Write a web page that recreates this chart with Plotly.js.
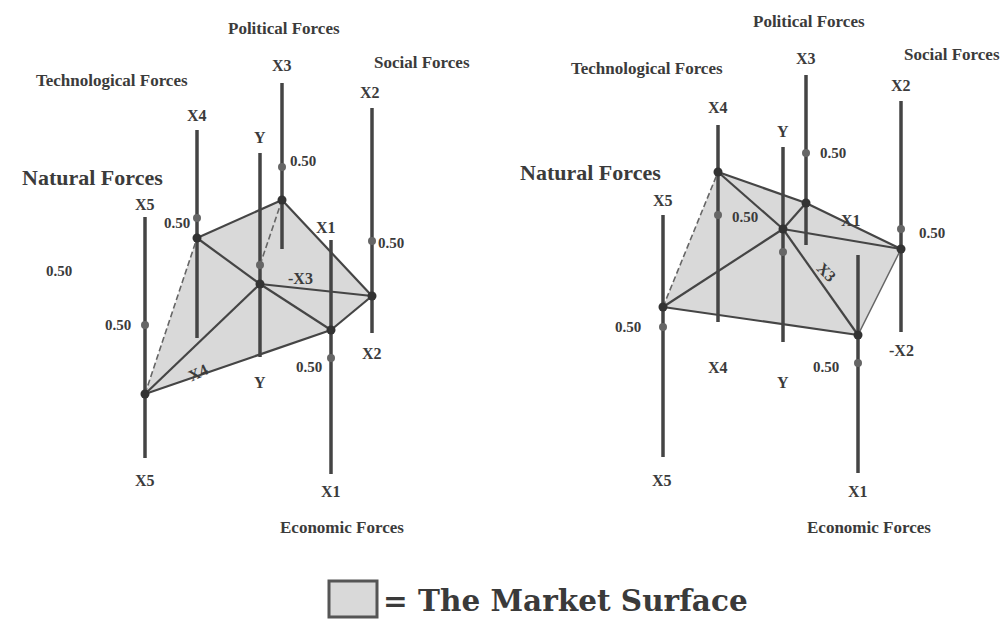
<!DOCTYPE html>
<html><head><meta charset="utf-8">
<script src="https://cdn.plot.ly/plotly-3.0.1.min.js"></script>
<style>html,body{margin:0;padding:0;background:#fff}#chart{width:1005px;height:621px}</style>
</head><body><div id="chart"></div>
<script>
// Axis order: X1, X2, X3, X4, X5, Y
const axisNames = ['X1','X2','X3','X4','X5','Y'];
// Left diagram
const leftAxisX      = [331, 372, 282, 197, 145, 260];
const leftAxisTop    = [240, 108, 83, 130, 217, 153];
const leftAxisBottom = [474, 333, 249, 338, 458, 357];
const leftNodeY      = [330, 296, 200, 238, 394, 284];
const leftMidY       = [358, 241, 167, 218, 325, 265];
// Right diagram
const rightAxisX      = [858, 901, 806, 718, 663, 783];
const rightAxisTop    = [255, 101, 75, 125, 215, 147];
const rightAxisBottom = [473, 332, 245, 322, 457, 342];
const rightNodeY      = [335, 249, 203, 172, 307, 229];
const rightMidY       = [363, 229, 153, 215, 327, 252];
// Market surface polygon: X5 -> X4 -> X3 -> X2 -> X1 -> X5
const surfaceOrder = [4, 3, 2, 1, 0, 4];
// Solid surface edges (X5-X4 edge is dashed)
const surfaceEdges = [[3,2],[2,1],[1,0],[0,4]];
// Inner edges (pairs of axis indices)
const leftEdges  = [[3,5],[5,0],[5,1],[5,4]];
const rightEdges = [[3,5],[5,0],[5,1],[4,5],[5,2]];
// Labels
const labelText = ['Political Forces','Social Forces','Technological Forces','Natural Forces','Economic Forces','0.50','-X3','-X2'];

const INK = '#3b3b3b';
const traces = [];
const anns = [];

function diagram(ax, top, bot, node, mid, edges, dashedPairs, thinEdges) {
  // surface fill
  traces.push({x: surfaceOrder.map(i => ax[i]), y: surfaceOrder.map(i => node[i]),
    mode: 'lines', fill: 'toself', fillcolor: '#d9d9d9', line: {color: 'rgba(0,0,0,0)', width: 0}, hoverinfo: 'skip'});
  // axes
  const axX = [], axY = [];
  ax.forEach((v, i) => { axX.push(v, v, null); axY.push(top[i], bot[i], null); });
  traces.push({x: axX, y: axY, mode: 'lines', line: {color: '#444', width: 3.5}, hoverinfo: 'skip'});
  // surface + inner edges
  const ex = [], ey = [];
  surfaceEdges.concat(edges).forEach(([a, b]) => {
    if (thinEdges.some(t => t[0] === a && t[1] === b)) return;
    ex.push(ax[a], ax[b], null); ey.push(node[a], node[b], null);
  });
  traces.push({x: ex, y: ey, mode: 'lines', line: {color: '#454545', width: 2.2}, hoverinfo: 'skip'});
  const tx = [], ty = [];
  thinEdges.forEach(([a, b]) => { tx.push(ax[a], ax[b], null); ty.push(node[a], node[b], null); });
  traces.push({x: tx, y: ty, mode: 'lines', line: {color: '#666', width: 1.5}, hoverinfo: 'skip'});
  // dashed edges
  const dx = [], dy = [];
  dashedPairs.forEach(p => { dx.push(p[0][0], p[1][0], null); dy.push(p[0][1], p[1][1], null); });
  traces.push({x: dx, y: dy, mode: 'lines', line: {color: '#666', width: 1.6, dash: '6px,3px'}, hoverinfo: 'skip'});
  // mid dots
  traces.push({x: ax, y: mid, mode: 'markers', marker: {color: '#666', size: 8}, hoverinfo: 'skip'});
  // nodes
  traces.push({x: ax, y: node, mode: 'markers', marker: {color: '#333', size: 9}, hoverinfo: 'skip'});
}

diagram(leftAxisX, leftAxisTop, leftAxisBottom, leftNodeY, leftMidY, leftEdges,
  [[[leftAxisX[4], leftNodeY[4]], [leftAxisX[3], leftNodeY[3]]],
   [[leftAxisX[5], leftMidY[5]], [leftAxisX[2], leftNodeY[2]]]], []);
diagram(rightAxisX, rightAxisTop, rightAxisBottom, rightNodeY, rightMidY, rightEdges,
  [[[rightAxisX[4], rightNodeY[4]], [rightAxisX[3], rightNodeY[3]]]], [[1,0]]);

function lab(text, x, y, size, angle, family) {
  anns.push({text: '<b>' + text + '</b>', x: x, y: y, xref: 'x', yref: 'y', showarrow: false,
    textangle: angle || 0, font: {family: family || 'Liberation Serif', size: size || 16, color: INK}});
}
// Left labels
lab(labelText[0], 284, 28, 17);
lab(axisNames[2], 282, 65);
lab(labelText[1], 422, 62, 17);
lab(axisNames[1], 370, 92);
lab(labelText[2], 112, 80, 17);
lab(axisNames[3], 197, 115);
lab(axisNames[5], 260, 137);
lab(labelText[5], 303, 161, 15);
lab(labelText[3], 92, 177, 22);
lab(axisNames[4], 145, 204);
lab(labelText[5], 177, 223, 15);
lab(axisNames[0], 326, 227);
lab(labelText[5], 391, 243, 15);
lab(labelText[5], 59, 271, 15);
lab(labelText[6], 300, 278);
lab(labelText[5], 118, 325, 15);
lab(axisNames[3], 198, 372, 16, -25);
lab(axisNames[5], 260, 382);
lab(labelText[5], 309, 367, 15);
lab(axisNames[1], 372, 353);
lab(axisNames[4], 145, 480);
lab(axisNames[0], 331, 491);
lab(labelText[4], 342, 527, 17);
// Right labels
lab(labelText[0], 809, 21, 17);
lab(axisNames[2], 806, 58);
lab(labelText[1], 952, 54, 17);
lab(axisNames[1], 901, 85);
lab(labelText[2], 647, 68, 17);
lab(axisNames[3], 718, 107);
lab(axisNames[5], 783, 131);
lab(labelText[5], 833, 153, 15);
lab(labelText[3], 590, 172, 22);
lab(axisNames[4], 663, 200);
lab(labelText[5], 745, 217, 15);
lab(axisNames[0], 851, 220);
lab(labelText[5], 932, 233, 15);
lab(axisNames[2], 827, 272, 16, 45);
lab(labelText[5], 628, 327, 15);
lab(axisNames[3], 718, 367);
lab(axisNames[5], 783, 382);
lab(labelText[5], 826, 367, 15);
lab(labelText[7], 901, 350);
lab(axisNames[4], 662, 480);
lab(axisNames[0], 858, 491);
lab(labelText[4], 869, 527, 17);
// Legend
anns.push({text: '<b>= The Market Surface</b>', x: 381, y: 600, xref: 'x', yref: 'y', xanchor: 'left',
  showarrow: false, font: {family: 'DejaVu Serif', size: 29.5, color: '#3a3a3a'}});

const layout = {
  width: 1005, height: 621, margin: {l: 0, r: 0, t: 0, b: 0},
  paper_bgcolor: '#fff', plot_bgcolor: '#fff', showlegend: false,
  xaxis: {range: [0, 1005], visible: false, fixedrange: true},
  yaxis: {range: [621, 0], visible: false, fixedrange: true},
  annotations: anns,
  shapes: [{type: 'rect', xref: 'x', yref: 'y', x0: 329, x1: 377, y0: 581, y1: 617,
    fillcolor: '#d9d9d9', line: {color: '#555', width: 3}}]
};
Plotly.newPlot('chart', traces, layout, {displayModeBar: false, staticPlot: true});
</script></body></html>
